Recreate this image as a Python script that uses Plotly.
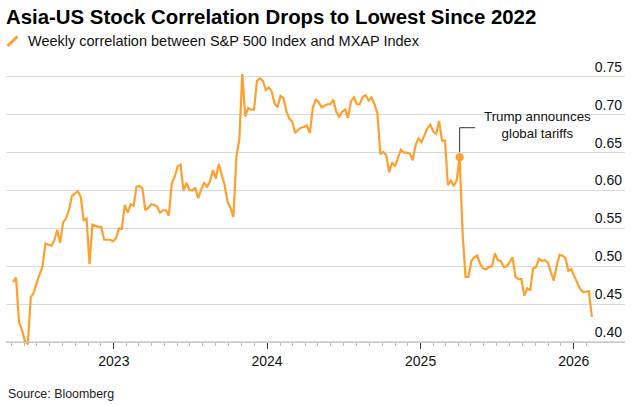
import pandas as pd
import plotly.graph_objects as go

title_text = "Asia-US Stock Correlation Drops to Lowest Since 2022"
legend_text = "Weekly correlation between S&P 500 Index and MXAP Index"
source_text = "Source: Bloomberg"
note_text = "Trump announces<br>global tariffs"

start_date = "2022-05-06"  # first weekly observation
values = [
    0.479, 0.485, 0.426, 0.416, 0.401, 0.397, 0.459, 0.465, 0.478, 0.490,
    0.500, 0.530, 0.529, 0.527, 0.534, 0.548, 0.531, 0.558, 0.563, 0.574,
    0.593, 0.596, 0.599, 0.592, 0.561, 0.563, 0.503, 0.555, 0.553, 0.552,
    0.552, 0.535, 0.535, 0.535, 0.533, 0.537, 0.550, 0.549, 0.581, 0.571,
    0.582, 0.580, 0.605, 0.606, 0.603, 0.574, 0.577, 0.582, 0.581, 0.579,
    0.571, 0.574, 0.574, 0.567, 0.610, 0.618, 0.632, 0.634, 0.600, 0.610,
    0.601, 0.600, 0.604, 0.590, 0.601, 0.610, 0.605, 0.612, 0.627, 0.616,
    0.635, 0.621, 0.607, 0.585, 0.577, 0.565, 0.645, 0.667, 0.754, 0.698,
    0.709, 0.707, 0.707, 0.745, 0.748, 0.745, 0.733, 0.736, 0.731, 0.715,
    0.710, 0.725, 0.722, 0.705, 0.695, 0.691, 0.676, 0.680, 0.683, 0.684,
    0.686, 0.676, 0.709, 0.720, 0.717, 0.710, 0.712, 0.714, 0.714, 0.720,
    0.704, 0.697, 0.704, 0.707, 0.696, 0.718, 0.723, 0.714, 0.714, 0.724,
    0.726, 0.719, 0.723, 0.714, 0.702, 0.648, 0.651, 0.647, 0.624, 0.637,
    0.632, 0.643, 0.654, 0.650, 0.650, 0.649, 0.640, 0.660, 0.669, 0.664,
    0.672, 0.682, 0.687, 0.678, 0.675, 0.692, 0.666, 0.666, 0.607, 0.613,
    0.606, 0.614, 0.644, 0.544, 0.486, 0.486, 0.507, 0.512, 0.514, 0.503,
    0.497, 0.496, 0.499, 0.500, 0.517, 0.508, 0.507, 0.499, 0.500, 0.505,
    0.512, 0.486, 0.483, 0.483, 0.461, 0.471, 0.468, 0.497, 0.499, 0.510,
    0.507, 0.508, 0.505, 0.494, 0.481, 0.500, 0.515, 0.514, 0.511, 0.494,
    0.496, 0.487, 0.478, 0.470, 0.466, 0.467, 0.467, 0.433,
]
event_index = 152  # week of the tariff announcement
y_ticks = [0.40, 0.45, 0.50, 0.55, 0.60, 0.65, 0.70, 0.75]

dates = pd.date_range(start_date, periods=len(values), freq="7D")

ORANGE = "#FF9F2E"
W, H = 633, 405
ML, MR, MT, MB = 6, 8, 52, 59
y_lo, y_hi = 0.3947, 0.7830
axis_pos = (0.40 - y_lo) / (y_hi - y_lo)

fig = go.Figure()
fig.add_trace(go.Scatter(
    x=dates, y=values, mode="lines",
    line=dict(color=ORANGE, width=2.2),
    hoverinfo="skip", showlegend=False,
))
ev_x = dates[event_index]
ev_y = values[event_index]
fig.add_trace(go.Scatter(
    x=[ev_x], y=[ev_y], mode="markers",
    marker=dict(color=ORANGE, size=8),
    hoverinfo="skip", showlegend=False,
))

# leader line for the annotation
lead_top = ev_y + 0.039
fig.add_shape(type="line", xref="x", yref="y", x0=ev_x, x1=ev_x, y0=ev_y, y1=lead_top,
              line=dict(color="#333333", width=1), layer="below")
fig.add_shape(type="line", xref="x", yref="y", x0=ev_x, x1=ev_x + pd.Timedelta(days=37),
              y0=lead_top, y1=lead_top, line=dict(color="#333333", width=1))

fig.add_annotation(x=ev_x, y=ev_y, xref="x", yref="y", text=note_text, showarrow=False,
                   xshift=78, yshift=32, align="center",
                   font=dict(family="Liberation Sans", size=13.3, color="#111111"))

pw = W - ML - MR
ph = H - MT - MB
def px_x(p):
    return (p - ML) / pw
def px_y(p):
    return 1 - (p - MT) / ph

# legend icon and text
fig.add_shape(type="line", xref="paper", yref="paper",
              x0=px_x(7.5), y0=px_y(46), x1=px_x(17.5), y1=px_y(36.5),
              line=dict(color=ORANGE, width=3))
fig.add_annotation(xref="paper", yref="paper", x=px_x(26), y=px_y(41), text=legend_text,
                   showarrow=False, xanchor="left", yanchor="middle",
                   font=dict(family="Liberation Sans", size=14.5, color="#111111"))
fig.add_annotation(xref="paper", yref="paper", x=px_x(6), y=px_y(394), text=source_text,
                   showarrow=False, xanchor="left", yanchor="middle",
                   font=dict(family="Liberation Sans", size=12.4, color="#222222"))

fig.update_layout(
    width=W, height=H,
    margin=dict(l=ML, r=MR, t=MT, b=MB),
    paper_bgcolor="white", plot_bgcolor="white",
    title=dict(text="<b>" + title_text + "</b>", x=6 / W, xanchor="left",
               y=1 - 17 / H, yanchor="middle", xref="container", yref="container",
               font=dict(family="Liberation Sans", size=20.4, color="#000000")),
    xaxis=dict(
        type="date", range=["2022-04-19", "2026-05-03"],
        anchor="free", position=axis_pos,
        showgrid=False, zeroline=False,
        showline=True, linecolor="#c8c8c8", linewidth=1,
        tick0="2023-01-01", dtick="M12", tickformat="%Y",
        ticks="outside", ticklen=6, tickwidth=1, tickcolor="#333333",
        tickfont=dict(family="Liberation Sans", size=14, color="#111111"),
        minor=dict(dtick="M1", tick0="2023-01-01", ticks="outside", ticklen=3,
                   tickcolor="#bbbbbb", showgrid=False),
    ),
    yaxis=dict(
        range=[y_lo, y_hi], side="right", ticklabelposition="inside",
        tickvals=y_ticks, tickformat=".2f", ticklabelshift=-10, ticklabelstandoff=0,
        showgrid=True, gridcolor="#d9d9d9", gridwidth=1,
        zeroline=False, showline=False, ticks="",
        tickfont=dict(family="Liberation Sans", size=14, color="#111111"),
    ),
)

fig.write_html("out.html", config={"displayModeBar": False},
               post_script="document.body.style.margin='0';")
